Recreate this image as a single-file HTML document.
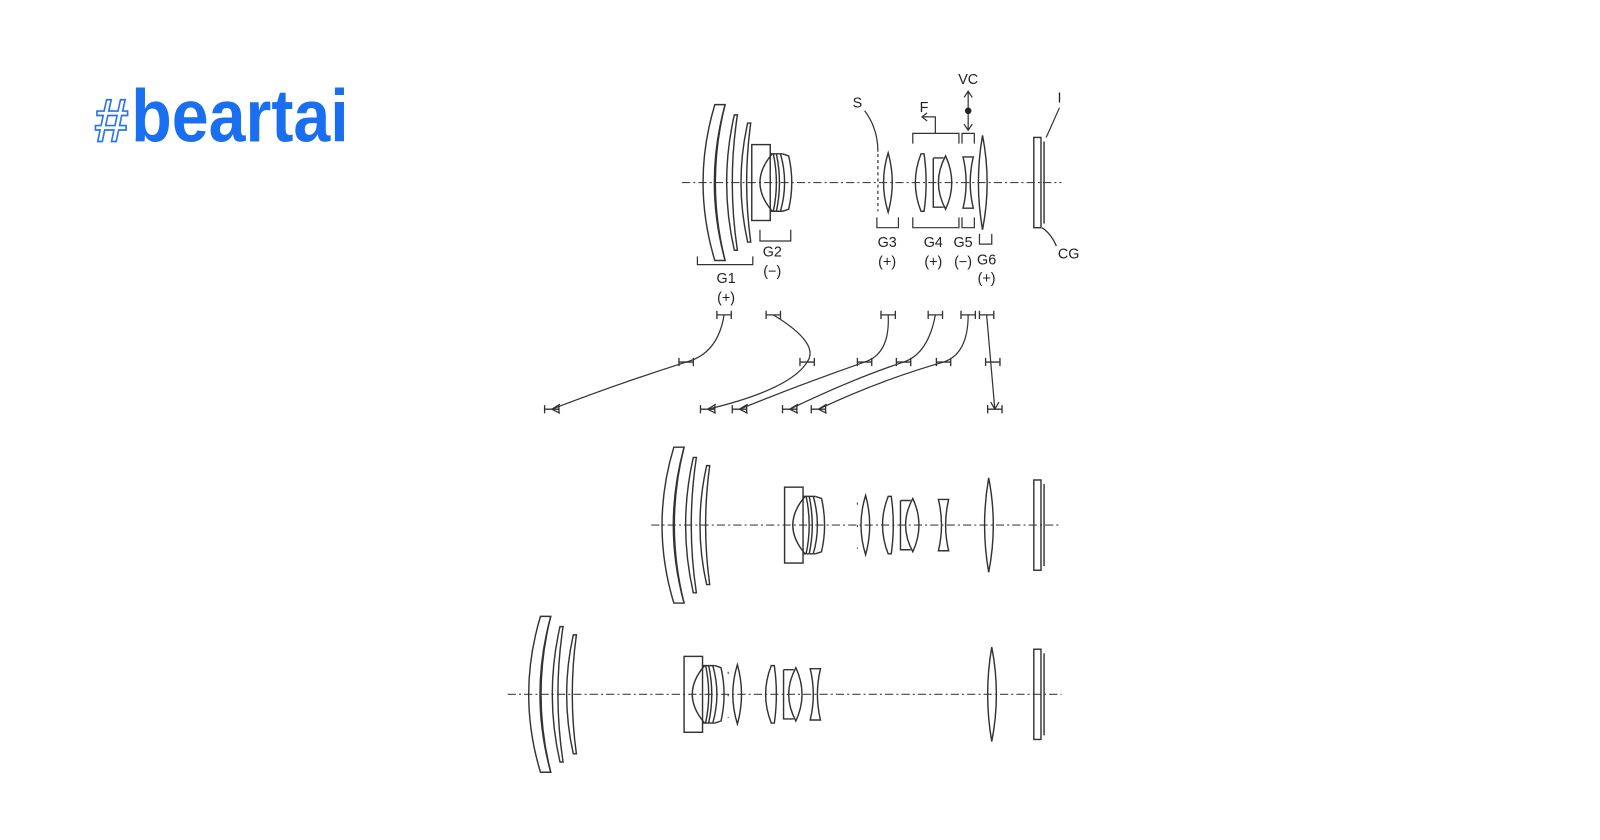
<!DOCTYPE html>
<html><head><meta charset="utf-8"><style>
html,body{margin:0;padding:0;background:#fff;width:1600px;height:840px;overflow:hidden}
svg{display:block}
</style></head><body>
<svg width="1600" height="840" viewBox="0 0 1600 840" xmlns="http://www.w3.org/2000/svg">
<defs>
<g id="G1" fill="none" stroke="#333" stroke-width="1.4">
  <path d="M14,-76 L24,-76 Q3,0 24,76 L14,76 Q-9,0 14,-76Z"/>
  <path d="M24,-76 Q5,0 24,76"/>
  <path d="M33,-66 Q18,0 33,66 L36,66 Q26,0 36,-66Z"/>
  <path d="M46,-58 Q33,0 46,58 L49,58 Q41,0 49,-58Z"/>
</g>
<g id="G2" fill="none" stroke="#333" stroke-width="1.4">
  <rect x="0" y="-37" width="18" height="74"/>
  <path d="M20,-28 Q-4,0 20,28"/>
  <path d="M18,-28 L30,-28 M18,28 L30,28"/>
  <path d="M21,-28 Q27,0 21,28 M24,-28 Q30,0 24,28 M28,-28 Q36,0 28,28"/>
  <path d="M30,-28 L36,-26 Q42,0 36,26 L30,28"/>
</g>
<g id="G3" fill="none" stroke="#333" stroke-width="1.4">
  <path d="M6,-29 Q-3,0 6,29 Q14,0 6,-29Z"/>
</g>
<g id="G4" fill="none" stroke="#333" stroke-width="1.4">
  <path d="M8,-28 Q-3,0 8,28 L11,28 Q15,0 11,-28Z"/>
  <path d="M20,-24 L20,24 L30,24 M20,-24 L30,-24"/>
  <path d="M32,-26 Q18,0 32,26 Q44,0 32,-26Z"/>
</g>
<g id="G5" fill="none" stroke="#333" stroke-width="1.4">
  <path d="M0,-25 L10,-25 Q4,0 10,25 L0,25 Q6,0 0,-25Z"/>
</g>
<g id="G6" fill="none" stroke="#333" stroke-width="1.4">
  <path d="M5,-46 Q-3,0 5,46 Q14,0 5,-46Z"/>
</g>
<g id="CG" fill="none" stroke="#333" stroke-width="1.4">
  <rect x="0" y="-44" width="7" height="88"/>
  <path d="M10,-40 L10,40"/>
</g>
<g id="H" stroke="#333" stroke-width="1.3"><path d="M-7,-4 L-7,4 M-7,0 L7,0 M7,-4 L7,4"/></g>
</defs>
<g transform="scale(1.0256)">
<!-- logo -->
<text x="92" y="138" font-family="Liberation Sans, sans-serif" font-size="60" font-weight="bold" fill="#fff" stroke="#2a74ee" stroke-width="1.6">#</text>
<text x="128" y="138" font-family="Liberation Sans, sans-serif" font-size="72" font-weight="bold" fill="#1a6ff0" textLength="212" lengthAdjust="spacingAndGlyphs">beartai</text>

<g stroke="#444" stroke-width="1.1" stroke-dasharray="8,3,2,3" fill="none">
  <path d="M665,178 L1035,178"/>
  <path d="M635,512 L1035,512"/>
  <path d="M495,677 L1035,677"/>
</g>

<!-- row 1 -->
<use href="#G1" x="683" y="178"/>
<use href="#G2" x="733" y="178"/>
<use href="#G3" x="860" y="178"/>
<use href="#G4" x="890" y="178"/>
<use href="#G5" x="939" y="178"/>
<use href="#G6" x="953" y="178"/>
<use href="#CG" x="1008" y="178"/>
<g fill="none" stroke="#333" stroke-width="1.2">
  <path d="M856,150 L856,206" stroke-dasharray="3,3"/>
  <path d="M843,108 Q856,125 856,148"/>
  <path d="M1033,105 Q1022,130 1020,134"/>
  <path d="M1016,222 Q1025,228 1030,240"/>
  <path d="M680,250 L680,258 L734,258 L734,250"/>
  <path d="M741,224 L741,235 L771,235 L771,224"/>
  <path d="M855,212 L855,222 L876,222 L876,212"/>
  <path d="M890,212 L890,222 L935,222 L935,212"/>
  <path d="M890,140 L890,130 L935,130 L935,140 M912,130 L912,114 L900,114"/>
  <path d="M904,110 L899,114 L904,118"/>
  <path d="M938,140 L938,130 L950,130 L950,140"/>
  <path d="M938,212 L938,222 L950,222 L950,212"/>
  <path d="M955,228 L955,238 L967,238 L967,228"/>
  <path d="M944,90 L944,126 M940,95 L944,89 L948,95 M940,121 L944,127 L948,121"/>
</g>
<circle cx="944" cy="108" r="3.2" fill="#222"/>
<g font-family="Liberation Sans, sans-serif" font-size="14" fill="#222" text-anchor="middle">
  <text x="836" y="105">S</text>
  <text x="901" y="109">F</text>
  <text x="944" y="82">VC</text>
  <text x="1033" y="100">I</text>
  <text x="1042" y="252">CG</text>
  <text x="708" y="276">G1</text>
  <text x="708" y="295">(+)</text>
  <text x="753" y="250">G2</text>
  <text x="753" y="269">(−)</text>
  <text x="865" y="241">G3</text>
  <text x="865" y="260">(+)</text>
  <text x="910" y="241">G4</text>
  <text x="910" y="260">(+)</text>
  <text x="939" y="241">G5</text>
  <text x="939" y="260">(−)</text>
  <text x="962" y="258">G6</text>
  <text x="962" y="276">(+)</text>
</g>

<!-- trajectories -->
<use href="#H" x="706" y="307"/><use href="#H" x="754" y="307"/><use href="#H" x="866" y="307"/>
<use href="#H" x="912" y="307"/><use href="#H" x="944" y="307"/><use href="#H" x="962" y="307"/>
<use href="#H" x="669" y="353"/><use href="#H" x="787" y="353"/><use href="#H" x="843" y="353"/>
<use href="#H" x="881" y="353"/><use href="#H" x="920" y="353"/><use href="#H" x="968" y="353"/>
<use href="#H" x="538" y="399"/><use href="#H" x="690" y="399"/><use href="#H" x="721" y="399"/>
<use href="#H" x="770" y="399"/><use href="#H" x="798" y="399"/><use href="#H" x="970" y="399"/>
<g fill="none" stroke="#333" stroke-width="1.2">
  <path d="M706,307 Q700,345 669,353 Q600,375 538,399"/>
  <path d="M754,307 Q800,335 787,353 Q770,380 690,399"/>
  <path d="M866,307 Q868,345 843,353 Q780,375 721,399"/>
  <path d="M912,307 Q905,345 881,353 Q830,370 770,399"/>
  <path d="M944,307 Q944,345 920,353 Q860,370 798,399"/>
  <path d="M962,307 L970,399"/>
  <path d="M546,394 L538,399 L546,403 M698,394 L690,399 L698,403 M729,394 L721,399 L729,403 M778,394 L770,399 L778,403 M806,394 L798,399 L806,403 M966,392 L970,399 L974,392"/>
</g>

<!-- row 2 -->
<use href="#G1" x="643" y="512"/>
<use href="#G2" x="765" y="512"/>
<path d="M836,490 L836,535" stroke="#333" stroke-dasharray="2,20" fill="none"/>
<use href="#G3" x="838" y="512"/>
<use href="#G4" x="858" y="512"/>
<use href="#G5" x="915" y="512"/>
<use href="#G6" x="959" y="512"/>
<use href="#CG" x="1008" y="512"/>

<!-- row 3 -->
<use href="#G1" x="513" y="677"/>
<use href="#G2" x="667" y="677"/>
<path d="M710,655 L710,700" stroke="#333" stroke-dasharray="2,20" fill="none"/>
<use href="#G3" x="713" y="677"/>
<use href="#G4" x="744" y="677"/>
<use href="#G5" x="790" y="677"/>
<use href="#G6" x="962" y="677"/>
<use href="#CG" x="1008" y="677"/>
</g>
</svg>
</body></html>
